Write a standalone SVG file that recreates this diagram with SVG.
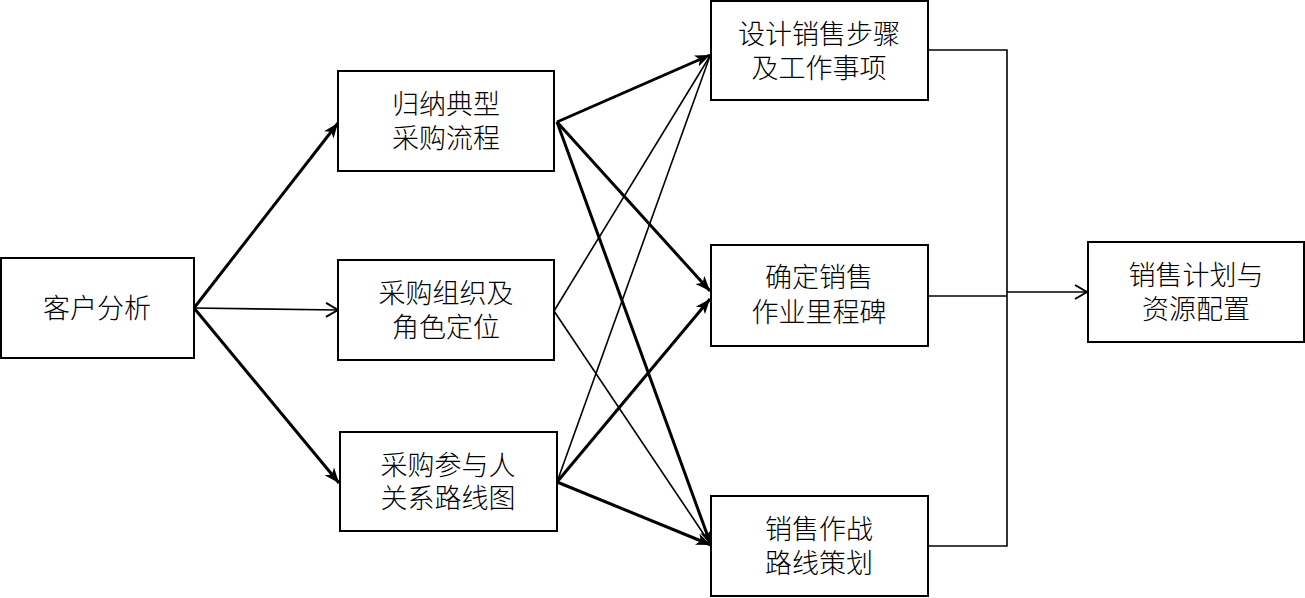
<svg xmlns="http://www.w3.org/2000/svg" width="1305" height="598" viewBox="0 0 1305 598">
<style>
.box{fill:#fff;stroke:#000;stroke-width:2}
.t{font-family:"Liberation Sans","Noto Sans CJK SC",sans-serif;font-size:27px;font-weight:300;fill:#000;text-anchor:middle;dominant-baseline:central}
.b{fill:none;stroke:#000;stroke-width:3}
.n{fill:none;stroke:#000;stroke-width:1.6}
</style>
<defs>
<marker id="fa" markerUnits="userSpaceOnUse" markerWidth="16" markerHeight="14" refX="15" refY="7" orient="auto">
<path d="M0,1 L15,7 L0,13 L4,7 Z" fill="#000"/>
</marker>
<marker id="oa" markerUnits="userSpaceOnUse" markerWidth="16" markerHeight="16" refX="14" refY="8" orient="auto">
<path d="M2,1 L14,8 L2,15" fill="none" stroke="#000" stroke-width="2"/>
</marker>
</defs>
<g id="connectors">
<line class="b" x1="194" y1="308" x2="338" y2="123" marker-end="url(#fa)"/>
<line class="n" x1="194" y1="308" x2="338" y2="310" marker-end="url(#oa)"/>
<line class="b" x1="194" y1="308" x2="339" y2="483" marker-end="url(#fa)"/>
<line class="n" x1="554" y1="311" x2="710" y2="56"/>
<line class="n" x1="557" y1="482" x2="710" y2="56"/>
<line class="n" x1="554" y1="311" x2="711" y2="545"/>
<line class="b" x1="557" y1="122" x2="710" y2="55" marker-end="url(#fa)"/>
<line class="b" x1="557" y1="122" x2="710" y2="291" marker-end="url(#fa)"/>
<line class="b" x1="557" y1="482" x2="710" y2="299" marker-end="url(#fa)"/>
<line class="b" x1="557" y1="122" x2="711" y2="545" marker-end="url(#fa)"/>
<line class="b" x1="557" y1="482" x2="711" y2="545" marker-end="url(#fa)"/>
<polyline class="n" points="928,50 1007,50 1007,546 928,546"/>
<line class="n" x1="928" y1="296" x2="1007" y2="296"/>
<line class="n" x1="1007" y1="292" x2="1087" y2="292" marker-end="url(#oa)"/>
</g>
<g id="n1"><rect class="box" x="1" y="258" width="193" height="100"/><text class="t" x="97" y="309">客户分析</text></g>
<g id="n2"><rect class="box" x="338" y="71" width="216" height="100"/><text class="t" x="446" y="105">归纳典型</text><text class="t" x="446" y="139">采购流程</text></g>
<g id="n3"><rect class="box" x="338" y="260" width="216" height="100"/><text class="t" x="446" y="294">采购组织及</text><text class="t" x="446" y="328">角色定位</text></g>
<g id="n4"><rect class="box" x="340" y="432" width="217" height="99"/><text class="t" x="448" y="466">采购参与人</text><text class="t" x="448" y="499">关系路线图</text></g>
<g id="n5"><rect class="box" x="711" y="1" width="217" height="99"/><text class="t" x="819" y="35">设计销售步骤</text><text class="t" x="819" y="69">及工作事项</text></g>
<g id="n6"><rect class="box" x="711" y="245" width="217" height="101"/><text class="t" x="819" y="278">确定销售</text><text class="t" x="819" y="313">作业里程碑</text></g>
<g id="n7"><rect class="box" x="711" y="496" width="217" height="100"/><text class="t" x="819" y="530">销售作战</text><text class="t" x="819" y="564">路线策划</text></g>
<g id="n8"><rect class="box" x="1088" y="242" width="216" height="100"/><text class="t" x="1196" y="276">销售计划与</text><text class="t" x="1196" y="310">资源配置</text></g>
</svg>
